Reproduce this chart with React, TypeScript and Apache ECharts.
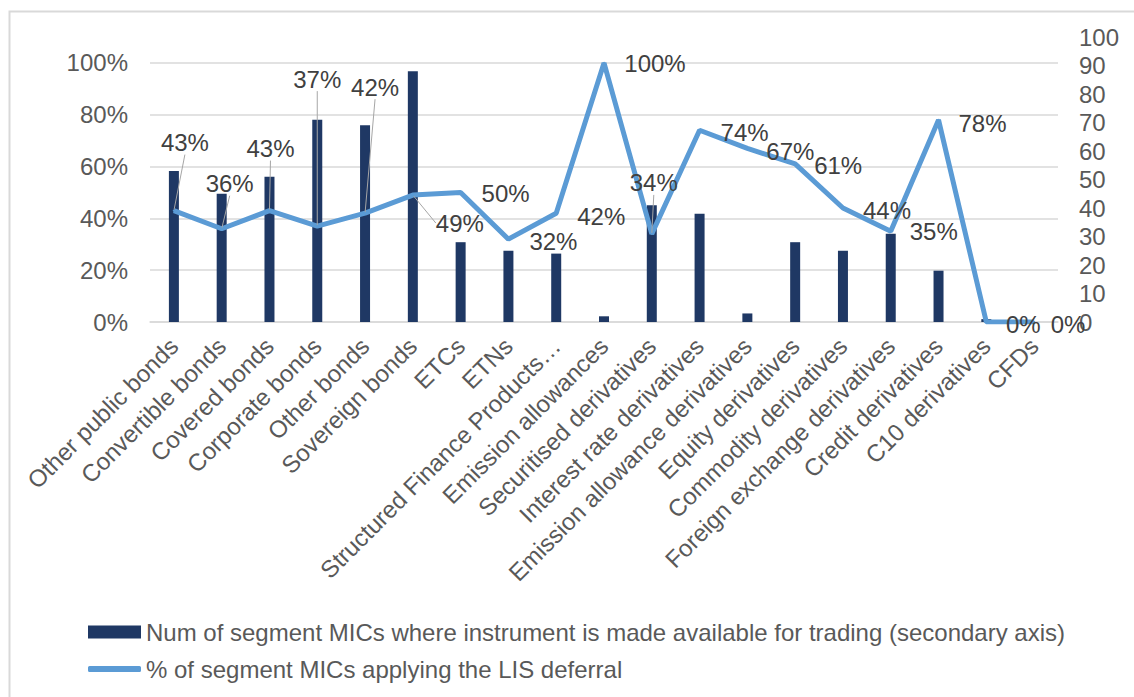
import React, { useEffect, useRef } from "react";
import * as echarts from "echarts";

const categories = [
  "Other public bonds",
  "Convertible bonds",
  "Covered bonds",
  "Corporate bonds",
  "Other bonds",
  "Sovereign bonds",
  "ETCs",
  "ETNs",
  "Structured Finance Products…",
  "Emission allowances",
  "Securitised derivatives",
  "Interest rate derivatives",
  "Emission allowance derivatives",
  "Equity derivatives",
  "Commodity derivatives",
  "Foreign exchange derivatives",
  "Credit derivatives",
  "C10 derivatives",
  "CFDs",
];

const segmentMicCounts = [53, 45, 51, 71, 69, 88, 28, 25, 24, 2, 41, 38, 3, 28, 25, 31, 18, 1, 0];

const lisDeferralShare = [
  0.43, 0.36, 0.43, 0.37, 0.42, 0.49, 0.5, 0.32, 0.42, 1.0, 0.34, 0.74, 0.67, 0.61, 0.44, 0.35, 0.78, 0, 0,
];

const barSeriesName =
  "Num of segment MICs where instrument is made available for trading (secondary axis)";
const lineSeriesName = "% of segment MICs applying the LIS deferral";

// label placement (offset of label centre from its point) and leader-line flags
const labelOffsets = [
  [11, -68], [8, -45], [1, -62], [0, -147], [10, -126], [47, 28], [45, 1], [45, 2], [45, 3],
  [51, 1], [2, -51], [45, 2], [43, 3], [43, 2], [44, 2], [43, 0], [44, 4], [37, 2], [34, 2],
];
const leaderLines = [
  true, true, true, true, true, true, false, false, false, false, true, false, false, false, false,
  false, false, false, false,
];

const FONT = "'Liberation Sans', Arial, sans-serif";
const AXIS_COLOR = "#595959";
const GRID_COLOR = "#d9d9d9";
const FS = 24;

export default function App() {
  const ref = useRef<HTMLDivElement>(null);

  useEffect(() => {
    if (!ref.current) return;
    const chart = echarts.init(ref.current, null, { renderer: "svg" });
    chart.setOption({
      animation: false,
      backgroundColor: "#ffffff",
      textStyle: { fontFamily: FONT },
      graphic: [
        {
          type: "rect",
          left: 7,
          top: 9,
          shape: { width: 1140, height: 700 },
          style: { fill: "none", stroke: GRID_COLOR, lineWidth: 2 },
          silent: true,
        },
      ],
      grid: { left: 150, right: 76, top: 37, bottom: 375, containLabel: false },
      legend: [
        {
          data: [{ name: barSeriesName, icon: "rect" }],
          left: 88,
          top: 620,
          padding: 0,
          itemWidth: 53,
          itemHeight: 13,
          textStyle: { fontSize: FS, color: AXIS_COLOR, fontFamily: FONT },
        },
        {
          data: [{ name: lineSeriesName, icon: "roundRect" }],
          left: 88,
          top: 657,
          padding: 0,
          itemWidth: 53,
          itemHeight: 6,
          textStyle: { fontSize: FS, color: AXIS_COLOR, fontFamily: FONT },
        },
      ],
      xAxis: {
        type: "category",
        data: categories,
        axisTick: { show: false },
        axisLine: { show: true, lineStyle: { color: GRID_COLOR, width: 1.5 } },
        axisLabel: {
          interval: 0,
          rotate: 45,
          margin: 20,
          fontSize: FS,
          color: AXIS_COLOR,
          fontFamily: FONT,
        },
      },
      yAxis: [
        {
          type: "value",
          min: 0,
          max: 1.1,
          interval: 0.2,
          axisLine: { show: false },
          axisTick: { show: false },
          axisLabel: {
            margin: 22,
            fontSize: FS,
            color: AXIS_COLOR,
            fontFamily: FONT,
            showMaxLabel: false,
            formatter: (v: number) => Math.round(v * 100) + "%",
          },
          splitLine: {
            show: true,
            showMaxLine: false,
            lineStyle: { color: GRID_COLOR, width: 1.5 },
          },
        },
        {
          type: "value",
          min: 0,
          max: 100,
          interval: 10,
          axisLine: { show: false },
          axisTick: { show: false },
          splitLine: { show: false },
          axisLabel: {
            margin: 21,
            fontSize: FS,
            color: AXIS_COLOR,
            fontFamily: FONT,
          },
        },
      ],
      series: [
        {
          name: barSeriesName,
          type: "bar",
          yAxisIndex: 1,
          data: segmentMicCounts,
          barWidth: 10,
          itemStyle: { color: "#1f3864" },
        },
        {
          name: lineSeriesName,
          type: "line",
          yAxisIndex: 0,
          data: lisDeferralShare.map((v, i) => ({
            value: v,
            labelLine: { show: leaderLines[i] },
          })),
          symbol: "circle",
          symbolSize: 2,
          showSymbol: true,
          itemStyle: { color: "#5b9bd5" },
          lineStyle: { color: "#5b9bd5", width: 5 },
          z: 5,
          label: {
            show: true,
            position: "inside",
            fontSize: FS,
            color: "#404040",
            fontFamily: FONT,
            formatter: (p: any) => Math.round(p.value * 100) + "%",
          },
          labelLine: {
            show: false,
            lineStyle: { color: "#a6a6a6", width: 1 },
          },
          labelLayout: (params: any) => {
            const o = labelOffsets[params.dataIndex] || [0, 0];
            return { dx: o[0], dy: o[1] };
          },
        },
      ],
    });
    return () => chart.dispose();
  }, []);

  return (
    <div
      ref={ref}
      style={{ position: "fixed", left: 0, top: 0, width: 1134, height: 697, background: "#fff" }}
    />
  );
}
